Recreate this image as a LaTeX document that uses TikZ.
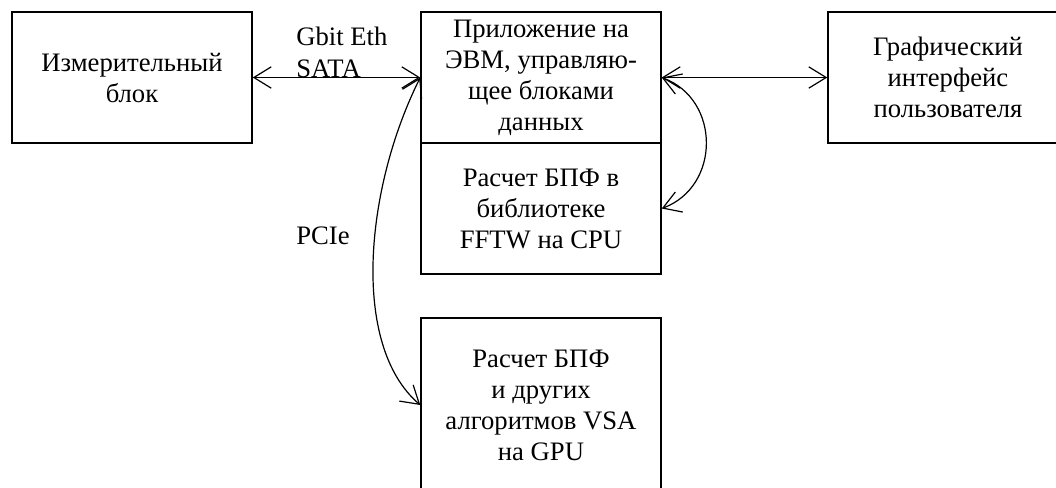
\documentclass[tikz,border=0pt]{standalone}
\usepackage{fontspec}
\setmainfont{Liberation Serif}
\usetikzlibrary{arrows.meta}
\tikzset{
  blok/.style={draw, line width=1.1pt, inner sep=0pt, minimum width=180pt,
    minimum height=98.25pt, align=center},
  svyaz/.style={line width=0.9pt, {Straight Barb[length=13pt,width=16pt]}-{Straight Barb[length=13pt,width=16pt]}},
  podpis/.style={anchor=base west, inner sep=0pt}
}
\begin{document}
\begin{tikzpicture}[x=0.75pt, y=-0.75pt]
\fontsize{20}{23.25}\selectfont
\useasboundingbox (0,0) rectangle (1056,487);
\node[blok] (izm) at (132,77.5) {Измерительный\\блок};
\node[blok] (pril) at (541,77.5) {Приложение на\\ЭВМ, управляю-\\щее блоками\\данных};
\node[blok] (fftw) at (541,208.5) {Расчет БПФ в\\библиотеке\\FFTW на CPU};
\node[blok] (gui) at (948,77.5) {Графический\\интерфейс\\пользователя};
\node[blok, minimum height=130.5pt] (gpu) at (541,405) {Расчет БПФ\\и других\\алгоритмов VSA\\на GPU};
\node[podpis] (gbit) at (296,45) {Gbit Eth};
\node[podpis] (sata) at (296,77) {SATA};
\node[podpis] (pcie) at (296,244) {PCIe};
\draw[svyaz] (izm.east) -- (pril.west);
\draw[svyaz] (pril.east) -- (gui.west);
\draw[svyaz] (pril.west) .. controls +(-55,110) and +(-70,-60) .. (gpu.west);
\draw[svyaz] (pril.east) .. controls +(59,22) and +(59,-22) .. (fftw.east);
\end{tikzpicture}
\end{document}
